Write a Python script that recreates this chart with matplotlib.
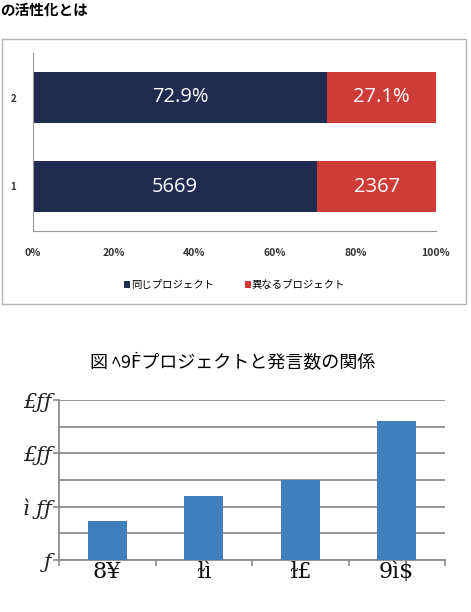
import matplotlib
matplotlib.use("Agg")
import matplotlib.pyplot as plt
from matplotlib.patches import Rectangle

plt.rcParams['font.family'] = ['Noto Sans CJK JP', 'DejaVu Sans']

# top chart: 100% stacked bars
rows = ["1", "2"]
same_counts = [5669, 72.9]
diff_counts = [2367, 27.1]
bar_texts_same = ["5669", "72.9%"]
bar_texts_diff = ["2367", "27.1%"]
series_names = ["同じプロジェクト", "異なるプロジェクト"]
pct_ticks = [0, 20, 40, 60, 80, 100]

# bottom chart (labels are garbled in the source document)
groups = ["8¥", "ɫì", "ɫ£", "9ì$"]
heights = [369, 600, 750, 1306]
y_labels = ["ƒ", "ì ƒƒ", "£ƒƒ", "£ƒƒ"]

W, H = 471, 612
fig = plt.figure(figsize=(W / 100, H / 100), dpi=100)


def box(l, t, r, b):
    return [l / W, 1 - b / H, (r - l) / W, (b - t) / H]


fig.text(0, 1 - 10 / H, "の活性化とは", fontsize=10.5, fontweight='bold',
         va='center', ha='left')

fig.patches.append(Rectangle((2 / W, 1 - 304 / H), 464 / W, 265 / H,
                             transform=fig.transFigure, fill=False,
                             edgecolor='#b4b4b4', lw=1))

navy = '#1f2c4f'
red = '#cd3c37'
ax1 = fig.add_axes(box(33, 53, 436, 231))
totals = [a + b for a, b in zip(same_counts, diff_counts)]
p_same = [a / t * 100 for a, t in zip(same_counts, totals)]
p_diff = [b / t * 100 for b, t in zip(diff_counts, totals)]
ypos = list(range(1, len(rows) + 1))
ax1.barh(ypos, p_same, height=0.57, color=navy, label=series_names[0])
ax1.barh(ypos, p_diff, left=p_same, height=0.57, color=red,
         label=series_names[1])
for y, a, b, ta, tb in zip(ypos, p_same, p_diff, bar_texts_same,
                           bar_texts_diff):
    ax1.text(a / 2, y, ta, color='white', fontsize=14.5, ha='center',
             va='center', family=['Open Sans', 'DejaVu Sans'])
    ax1.text(a + b / 2, y, tb, color='white', fontsize=14.5, ha='center',
             va='center', family=['Open Sans', 'DejaVu Sans'])
ax1.set_xlim(0, 100)
ax1.set_ylim(0.5, 2.5)
ax1.set_yticks(ypos)
ax1.set_yticklabels(rows, fontsize=7, fontweight='bold', color='#333333')
ax1.set_xticks(pct_ticks)
ax1.set_xticklabels([f"{p}%" for p in pct_ticks], fontsize=7.5,
                    fontweight='bold', color='#333333')
ax1.tick_params(length=0, pad=12)
ax1.tick_params(axis='y', pad=12)
for s in ['top', 'right']:
    ax1.spines[s].set_visible(False)
ax1.spines['left'].set_color('#999999')
ax1.spines['bottom'].set_color('#999999')
leg = ax1.legend(loc='center', bbox_to_anchor=(0.5, -0.305), ncol=2,
                 frameon=False, fontsize=7.5, handlelength=0.55,
                 handleheight=0.55, handletextpad=0.1, columnspacing=3.0)

# bottom chart
fig.text(233 / W, 1 - 362 / H, "図 ﾍ9Ḟプロジェクトと発言数の関係", fontsize=13,
         ha='center', va='center')
ax2 = fig.add_axes(box(59, 400, 445, 560))
xpos = list(range(len(groups)))
ax2.bar(xpos, heights, width=0.4, color='#3f7fbc', zorder=3)
ax2.set_xlim(-0.5, len(groups) - 0.5)
ax2.set_ylim(0, 1500)
ax2.set_yticks([0, 500, 1000, 1500])
ax2.set_yticks([250, 750, 1250], minor=True)
ax2.set_yticklabels(y_labels, fontsize=15, family='DejaVu Serif',
                    style='italic', color='#222222')
ax2.tick_params(axis='y', which='both', length=4, color='#8c8c8c', width=1.2,
                pad=1)
ax2.tick_params(axis='y', which='minor', length=0)
ax2.grid(axis='y', which='both', color='#8c8c8c', lw=1.3, zorder=0)
ax2.set_xticks([x + 0.5 for x in xpos[:-1]] + [-0.5, len(groups) - 0.5])
ax2.set_xticklabels([])
ax2.set_xticks(xpos, minor=True)
ax2.set_xticklabels(groups, minor=True, fontsize=16, family='DejaVu Serif',
                    color='#111111')
ax2.tick_params(axis='x', which='major', length=4, color='#8c8c8c', width=1.2)
ax2.tick_params(axis='x', which='minor', length=0, pad=1)
for s in ['top', 'right']:
    ax2.spines[s].set_visible(False)
ax2.spines['left'].set_color('#8c8c8c')
ax2.spines['bottom'].set_color('#8c8c8c')
ax2.spines['left'].set_linewidth(1.3)
ax2.spines['bottom'].set_linewidth(1.3)

fig.savefig("out.png", dpi=100)
